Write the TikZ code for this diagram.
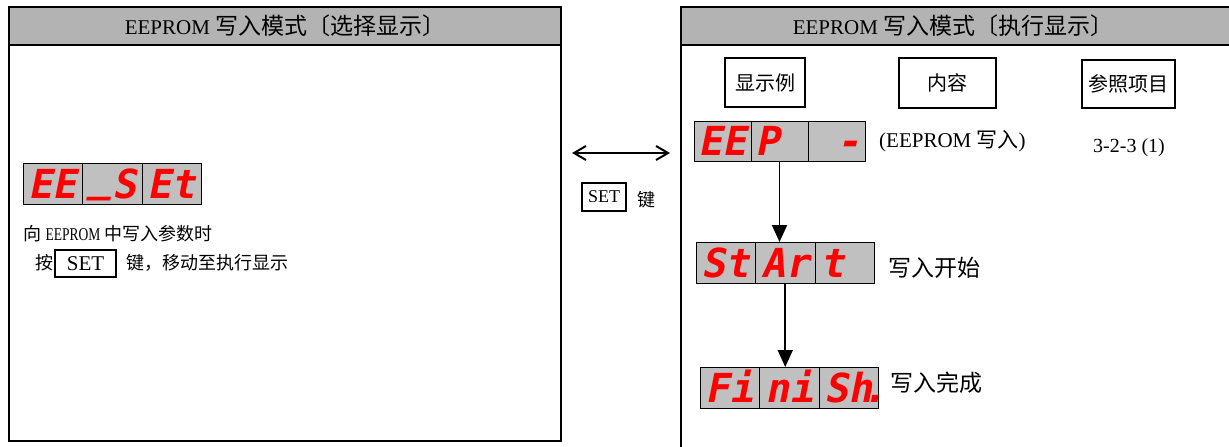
\documentclass[tikz,border=0pt]{standalone}
\usepackage{fontspec}
\setmainfont{Liberation Serif}
\newfontfamily\cjk{Noto Sans CJK SC}
\newfontfamily\narrowrm[FakeStretch=0.75]{Liberation Serif}
\newfontfamily\ledfont[FakeSlant=0.2]{DejaVu Sans Mono}
\usepackage{tikz}
\usetikzlibrary{calc,arrows,arrows.meta}
\definecolor{headgray}{RGB}{179,179,179}
\definecolor{ledgray}{RGB}{192,192,192}
\tikzset{
  panel/.style={draw,line width=1.6pt,anchor=north west,inner sep=0pt,outer sep=0pt},
  head/.style={panel,fill=headgray},
  colbox/.style={draw,line width=1.3pt,inner sep=0pt,font=\fontsize{20}{24}\selectfont\cjk},
  led/.style={draw,line width=1pt,fill=ledgray,minimum width=59.5pt,minimum height=41pt,
    text height=29pt,text depth=0pt,
    inner sep=0pt,outer sep=0pt,anchor=north west,text=red,font=\fontsize{40}{40}\selectfont\ledfont\bfseries},
  keybox/.style={draw,line width=1.3pt,inner sep=0pt},
  note/.style={anchor=west,inner sep=0pt},
  cjknote/.style={note,font=\fontsize{18}{22}\selectfont\cjk}
}
\newcommand\bigcjk{\fontsize{23}{27}\selectfont\cjk}

\begin{document}
\begin{tikzpicture}[x=1pt,y=-1pt,font=\fontsize{21}{24}\selectfont,>={Triangle[width=15pt,length=17pt]}]
    \useasboundingbox (0,0) rectangle (1229,447);

    % Left panel: selection display
    \node (selpanel) at (9,7) [panel,minimum width=552pt,minimum height=434pt] {};
    \node (selhead) at (selpanel.north west) [head,minimum width=552pt,minimum height=38pt]
      {EEPROM {\bigcjk 写入模式〔选择显示〕}};

    \node (sel1) at (23,163) [led] {EE};
    \node (sel2) at (sel1.north east) [led] {\raisebox{7pt}{\_}S};
    \node (sel3) at (sel2.north east) [led] {Et};

    \node (selnote) at (23,234) [note,font=\fontsize{18}{22}\selectfont]
      {{\cjk 向} {\narrowrm EEPROM} {\cjk 中写入参数时}};
    \node (pressA) at (35,263) [cjknote] {按};
    \node (setkeyA) at (85.5,263.5) [keybox,minimum width=61pt,minimum height=27pt] {SET};
    \node (pressB) at (126,263) [cjknote] {键，移动至执行显示};

    % Right panel: execution display
    \coordinate (execpanel) at (681,7);
    \fill [headgray] (execpanel) rectangle (1229,45);
    \draw [line width=1.6pt] (1229,7) -- (execpanel) -- (681,447);
    \draw [line width=1.6pt] (681,45) -- (1229,45);
    \node (exechead) at (953,26) {EEPROM {\bigcjk 写入模式〔执行显示〕}};

    \node (colex) at (765,82.5) [colbox,minimum width=80pt,minimum height=49pt] {显示例};
    \node (colcont) at (947.5,83) [colbox,minimum width=97pt,minimum height=50pt] {内容};
    \node (colref) at (1128.5,84) [colbox,minimum width=93pt,minimum height=48pt] {参照项目};

    % EEP -> StArt -> FiniSh.
    \node (eep1) at (694,121) [led,minimum width=57pt,minimum height=40pt] {EE};
    \node (eep2) at (eep1.north east) [led,minimum width=57pt,minimum height=40pt] {P\phantom{P}};
    \node (eep3) at (eep2.north east) [led,minimum width=57pt,minimum height=40pt] {\phantom{-}-};
    \node (eepnote) at ($ (eep3.east) + (14,0) $) [note] {(EEPROM {\cjk 写入})};
    \node (eepref) at (1093,148) [note,font=\fontsize{20}{24}\selectfont] {3-2-3 (1)};

    \node (start1) at (696,242) [led] {St};
    \node (start2) at (start1.north east) [led] {Ar};
    \node (start3) at (start2.north east) [led] {t\phantom{t}};
    \node (startnote) at ($ (start3.east) + (14,5) $) [note,font=\bigcjk] {写入开始};

    \node (fin1) at (700,367) [led] {Fi};
    \node (fin2) at (fin1.north east) [led] {ni};
    \node (fin3) at (fin2.north east) [led] {Sh\llap{.\kern-.35em}};
    \node (finnote) at ($ (fin3.east) + (12,-5) $) [note,font=\bigcjk] {写入完成};

    \draw [->,line width=1.8pt] (eep2.south) -- (eep2.south |- start2.north);
    \draw [->,line width=1.8pt] (start2.south) -- (start2.south |- fin2.north);

    % SET key between the panels
    \draw [{Straight Barb[length=12pt,width=14pt]}-{Straight Barb[length=12pt,width=14pt]},line width=2pt]
      ($ (selpanel.north east) + (11,146) $) -- ($ (execpanel) + (-11,146) $);
    \node (setkey) at (604,197) [keybox,minimum width=44pt,minimum height=28pt,font=\fontsize{18}{22}\selectfont] {SET};
    \node (setlabel) at (646,200) [font=\fontsize{18}{22}\selectfont\cjk] {键};
\end{tikzpicture}
\end{document}
